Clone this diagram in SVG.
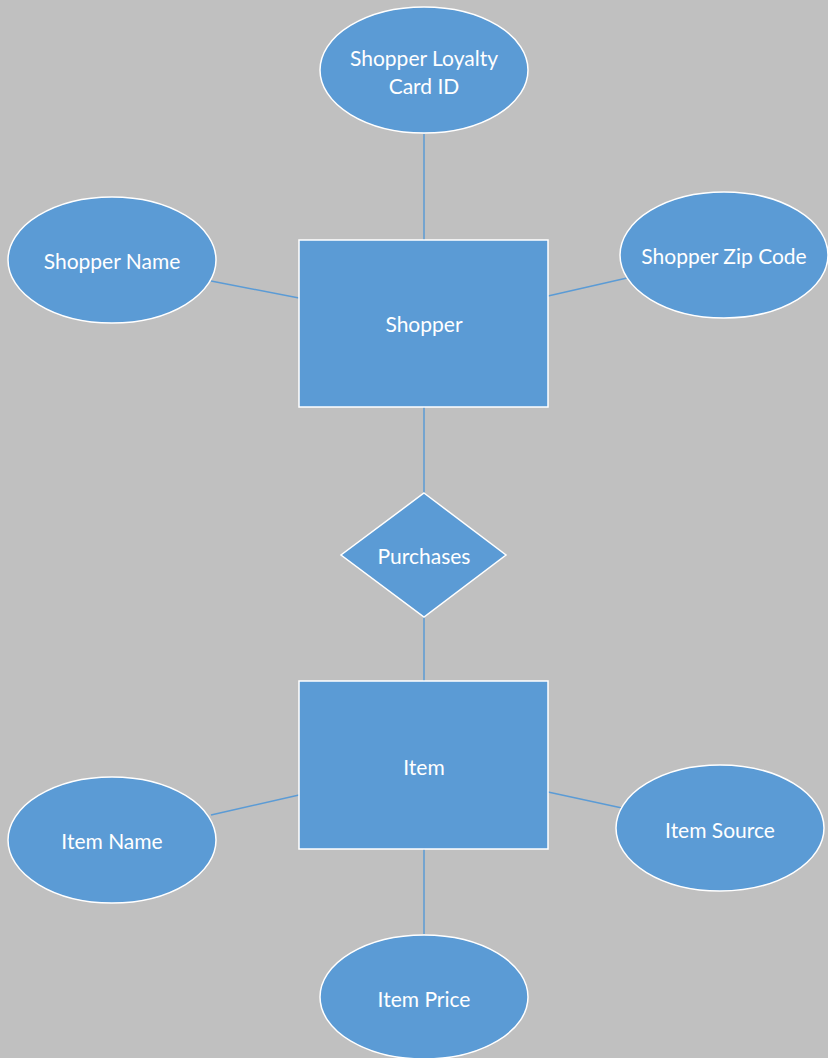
<svg xmlns="http://www.w3.org/2000/svg" width="828" height="1058" viewBox="0 0 828 1058">
<style>
.shape{fill:#5B9BD5;stroke:#FFFFFF;stroke-width:1.5}
.conn{stroke:#5B9BD5;stroke-width:1.5;fill:none}
.lbl{font-family:Lato,"Liberation Sans",sans-serif;font-size:21px;fill:#FFFFFF;text-anchor:middle;dominant-baseline:central}
</style>
<rect x="0" y="0" width="828" height="1058" fill="#C0C0C0"/>
<g id="connectors">
<line class="conn" x1="424" y1="134" x2="424" y2="240"/>
<line class="conn" x1="211" y1="281" x2="299" y2="298"/>
<line class="conn" x1="627" y1="278" x2="548" y2="296"/>
<line class="conn" x1="424" y1="407" x2="424" y2="493"/>
<line class="conn" x1="424" y1="617" x2="424" y2="681"/>
<line class="conn" x1="211" y1="815" x2="299" y2="795"/>
<line class="conn" x1="622" y1="808" x2="548" y2="792"/>
<line class="conn" x1="424" y1="849" x2="424" y2="934"/>
</g>
<g id="loyalty">
<ellipse class="shape" cx="424" cy="70" rx="104" ry="63"/>
<text class="lbl" x="424" y="57">Shopper Loyalty</text>
<text class="lbl" x="424" y="85">Card ID</text>
</g>
<g id="shopper-name">
<ellipse class="shape" cx="112" cy="260" rx="104" ry="63"/>
<text class="lbl" x="112" y="260">Shopper Name</text>
</g>
<g id="shopper-zip">
<ellipse class="shape" cx="724" cy="255" rx="104" ry="63"/>
<text class="lbl" x="724" y="255">Shopper Zip Code</text>
</g>
<g id="shopper">
<rect class="shape" x="299" y="240" width="249" height="167"/>
<text class="lbl" x="424" y="323">Shopper</text>
</g>
<g id="purchases">
<polygon class="shape" points="424,493 506,555 424,617 341,555"/>
<text class="lbl" x="424" y="555">Purchases</text>
</g>
<g id="item">
<rect class="shape" x="299" y="681" width="249" height="168"/>
<text class="lbl" x="424" y="766">Item</text>
</g>
<g id="item-name">
<ellipse class="shape" cx="112" cy="840" rx="104" ry="63"/>
<text class="lbl" x="112" y="840">Item Name</text>
</g>
<g id="item-source">
<ellipse class="shape" cx="720" cy="828" rx="104" ry="63"/>
<text class="lbl" x="720" y="829">Item Source</text>
</g>
<g id="item-price">
<ellipse class="shape" cx="424" cy="997" rx="104" ry="62"/>
<text class="lbl" x="424" y="998">Item Price</text>
</g>
</svg>
